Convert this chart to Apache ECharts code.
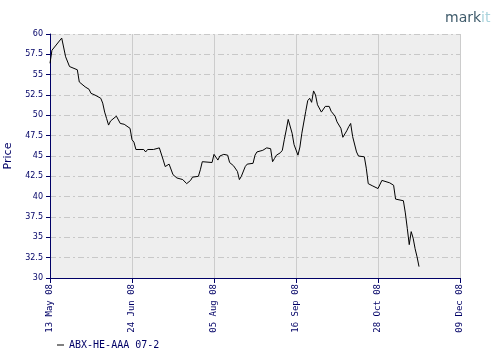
<!DOCTYPE html>
<html>
<head>
<meta charset="utf-8">
<script src="https://cdn.jsdelivr.net/npm/echarts@6/dist/echarts.min.js"></script>
<style>
html,body{margin:0;padding:0;background:#fff;}
#c{width:504px;height:354px;}
</style>
</head>
<body>
<div id="c"></div>
<script>
var seriesName = 'ABX-HE-AAA 07-2';
var startDate = '2008-05-13';
var tickDates = ['2008-05-13','2008-06-24','2008-08-05','2008-09-16','2008-10-28','2008-12-09'];
var dates = [
'2008-05-13','2008-05-14','2008-05-15','2008-05-19','2008-05-21','2008-05-23','2008-05-24','2008-05-27','2008-05-28','2008-05-31',
'2008-06-02','2008-06-03','2008-06-05','2008-06-08','2008-06-09','2008-06-10','2008-06-11','2008-06-12','2008-06-13','2008-06-16',
'2008-06-18','2008-06-20','2008-06-23','2008-06-24','2008-06-25','2008-06-26','2008-06-30','2008-07-01','2008-07-02','2008-07-05',
'2008-07-08','2008-07-09','2008-07-10','2008-07-11','2008-07-13','2008-07-14','2008-07-15','2008-07-17','2008-07-20','2008-07-22',
'2008-07-24','2008-07-25','2008-07-28','2008-07-29','2008-07-30','2008-07-31','2008-08-04','2008-08-05','2008-08-06','2008-08-07',
'2008-08-08','2008-08-10','2008-08-12','2008-08-13','2008-08-15','2008-08-17','2008-08-18','2008-08-19','2008-08-21','2008-08-22',
'2008-08-25','2008-08-26','2008-08-27','2008-08-28','2008-08-30','2008-09-01','2008-09-03','2008-09-04','2008-09-05','2008-09-06',
'2008-09-08','2008-09-09','2008-09-10','2008-09-11','2008-09-12','2008-09-14','2008-09-15','2008-09-17','2008-09-18','2008-09-19',
'2008-09-21','2008-09-22','2008-09-23','2008-09-24','2008-09-25','2008-09-26','2008-09-27','2008-09-29','2008-09-30','2008-10-01',
'2008-10-03','2008-10-04','2008-10-06','2008-10-07','2008-10-09','2008-10-10','2008-10-12','2008-10-13','2008-10-14','2008-10-15',
'2008-10-17','2008-10-18','2008-10-21','2008-10-22','2008-10-23','2008-10-25','2008-10-28','2008-10-30','2008-10-31','2008-11-03',
'2008-11-04','2008-11-05','2008-11-06','2008-11-10','2008-11-11','2008-11-12','2008-11-13','2008-11-14','2008-11-15','2008-11-16',
'2008-11-17','2008-11-18'
];
var prices = [
56.4,58.0,58.2,59.5,57.2,56.0,55.8,55.6,54.1,53.5,
53.2,52.7,52.5,52.1,51.5,50.4,49.6,48.8,49.3,49.9,
49.0,48.9,48.4,47.0,46.7,45.8,45.8,45.5,45.8,45.8,
46.0,45.8,44.5,43.7,44.0,43.9,42.7,42.3,42.1,41.6,
42.0,42.4,42.5,43.3,44.3,44.2,44.2,45.2,45.3,44.5,
45.0,45.2,45.1,44.2,43.8,43.1,42.1,42.5,43.7,44.0,
44.1,45.1,45.5,45.4,45.7,46.0,45.9,44.3,44.7,45.1,
45.4,45.7,47.0,48.2,49.5,47.8,46.4,45.1,46.1,47.8,
50.5,51.8,52.1,51.6,53.0,52.5,51.3,50.4,50.5,51.1,
51.1,50.5,49.9,49.2,48.4,47.3,48.1,48.6,49.0,47.4,
45.5,45.0,44.9,43.5,41.6,41.35,41.0,42.0,41.9,41.7,
41.8,41.4,39.7,39.5,38.0,36.1,34.1,35.7,34.9,33.6,
32.6,31.4
];

var DAY = 86400000;
var t0 = Date.parse(startDate);
function dayOff(s){ return Math.round((Date.parse(s) - t0) / DAY); }
var tickOffsets = tickDates.map(dayOff);
var tickLabelMap = {};
var MON = ['Jan','Feb','Mar','Apr','May','Jun','Jul','Aug','Sep','Oct','Nov','Dec'];
tickDates.forEach(function(s){
  var d = new Date(Date.parse(s));
  var dd = ('0' + d.getUTCDate()).slice(-2);
  var yy = ('' + d.getUTCFullYear()).slice(-2);
  tickLabelMap[dayOff(s)] = dd + ' ' + MON[d.getUTCMonth()] + ' ' + yy;
});
var lineData = dates.map(function(s, i){ return [dayOff(s), prices[i]]; });

var navy = '#000066';
var chart = echarts.init(document.getElementById('c'), null, {renderer:'canvas'});
chart.setOption({
  animation: false,
  backgroundColor: '#ffffff',
  grid: {left: 50, right: 44, top: 34, bottom: 76, show: true, backgroundColor: '#eeeeee', borderWidth: 0,
    containLabel: false, outerBoundsMode: 'none'},
  xAxis: {
    type: 'value',
    min: tickOffsets[0],
    max: tickOffsets[tickOffsets.length - 1],
    interval: tickOffsets[1] - tickOffsets[0],
    axisLine: {show: true, lineStyle: {color: navy, width: 1}},
    axisTick: {show: true, length: 5, lineStyle: {color: navy}},
    splitLine: {show: true, lineStyle: {color: '#cccccc', width: 1, type: 'solid'}},
    axisLabel: {
      rotate: 90, color: navy, fontFamily: 'DejaVu Sans Mono', fontSize: 9, margin: 6,
      formatter: function(v){ return tickLabelMap[Math.round(v)] || ''; }
    }
  },
  yAxis: {
    type: 'value', min: 30, max: 60, interval: 2.5,
    name: 'Price', nameLocation: 'middle', nameGap: 36, nameRotate: 90,
    nameTextStyle: {color: navy, fontFamily: 'DejaVu Sans', fontSize: 11},
    axisLine: {show: true, lineStyle: {color: navy, width: 1}},
    axisTick: {show: true, length: 4, lineStyle: {color: navy}},
    splitLine: {show: true, lineStyle: {color: '#c8c8c8', width: 1, type: [6, 3, 2, 3]}},
    axisLabel: {color: navy, fontFamily: 'DejaVu Sans', fontSize: 8, margin: 7,
      formatter: function(v){ return String(v); }}
  },
  legend: {
    left: 52, top: 335, icon: 'rect', itemWidth: 7, itemHeight: 1, itemGap: 6,
    textStyle: {color: navy, fontFamily: 'DejaVu Sans Mono', fontSize: 10},
    data: [seriesName]
  },
  graphic: [
    {type: 'text', left: 445, top: 11, style: {
      text: '{a|mark}{b|it}',
      rich: {
        a: {fill: '#3f5b6b', color: '#3f5b6b', fontFamily: 'DejaVu Sans', fontSize: 14},
        b: {fill: '#a9d3dc', color: '#a9d3dc', fontFamily: 'DejaVu Sans', fontSize: 14}
      }
    }}
  ],
  series: [{
    name: seriesName, type: 'line', data: lineData, showSymbol: false, symbol: 'none',
    lineStyle: {color: '#000000', width: 1}, itemStyle: {color: '#000000'}
  }]
});
</script>
</body>
</html>
